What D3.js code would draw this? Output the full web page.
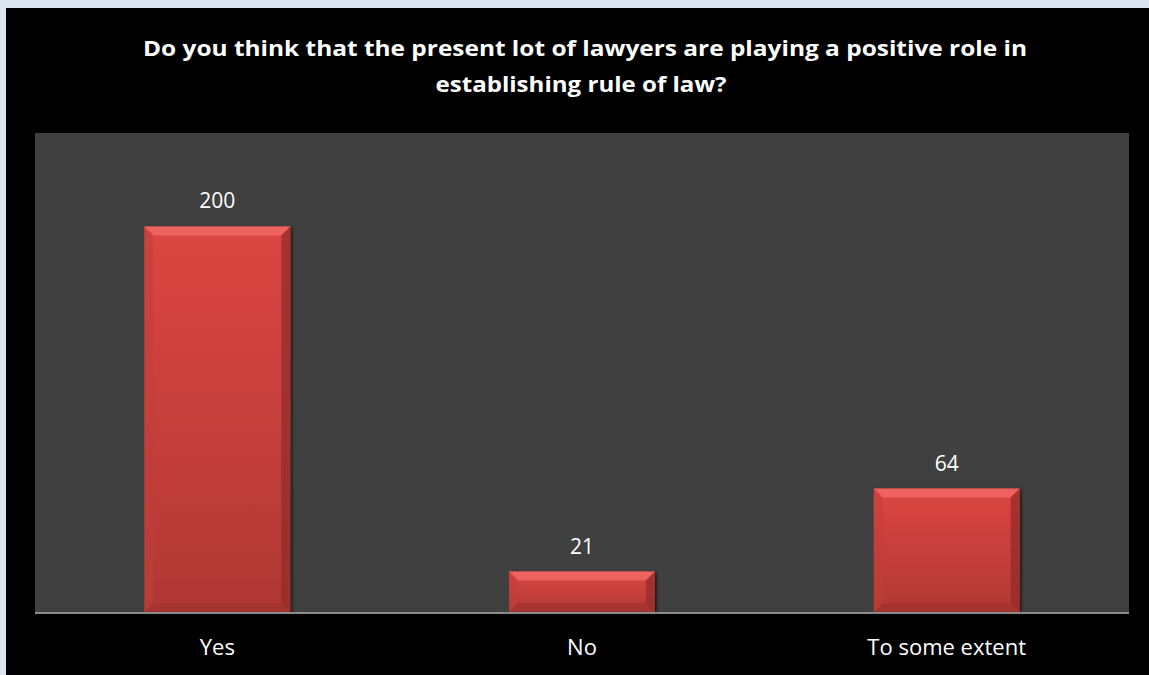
<!DOCTYPE html>
<html>
<head>
<meta charset="utf-8">
<script src="https://cdn.jsdelivr.net/npm/d3@7"></script>
<style>
  html, body { margin: 0; padding: 0; background: #dce6f2; }
  svg { display: block; }
</style>
</head>
<body>
<svg id="chart" width="1149" height="675"></svg>
<script>
// Survey responses
const categories = ["Yes", "No", "To some extent"];
const counts = [200, 21, 64];
const titleLines = [
  "Do you think that the present lot of lawyers are playing a positive role in",
  "establishing rule of law?"
];

const W = 1149, H = 675;
const plot = { left: 35, right: 1129, top: 133, bottom: 612 };
const font = "'Open Sans', sans-serif";

const svg = d3.select("#chart");

// frame
svg.append("rect").attr("x", 0).attr("y", 0).attr("width", W).attr("height", H).attr("fill", "#dce6f2");
svg.append("rect").attr("x", 6).attr("y", 8).attr("width", W - 6).attr("height", H - 8).attr("fill", "#000");

// plot area
svg.append("rect")
  .attr("x", plot.left).attr("y", plot.top)
  .attr("width", plot.right - plot.left).attr("height", plot.bottom - plot.top)
  .attr("fill", "#404040");

const x = d3.scaleBand().domain(categories).range([plot.left, plot.right])
  .paddingInner(0.6).paddingOuter(0.3);
const y = d3.scaleLinear().domain([0, 250]).range([plot.bottom, plot.top - 3]);

// gradient for bar faces
const defs = svg.append("defs");
const grad = defs.append("linearGradient").attr("id", "barFace")
  .attr("x1", 0).attr("y1", 0).attr("x2", 0).attr("y2", 1);
grad.append("stop").attr("offset", "0%").attr("stop-color", "#dc4642");
grad.append("stop").attr("offset", "100%").attr("stop-color", "#b03834");

const shadow = defs.append("filter").attr("id", "barShadow")
  .attr("x", "-10%").attr("y", "-10%").attr("width", "130%").attr("height", "130%");
shadow.append("feDropShadow").attr("dx", 2).attr("dy", 1).attr("stdDeviation", 1.5)
  .attr("flood-color", "#000").attr("flood-opacity", 0.6);

const data = categories.map((c, i) => ({ cat: c, val: counts[i] }));
const bev = 9;

const bars = svg.append("g").selectAll("g").data(data).join("g");

bars.each(function(d) {
  const g = d3.select(this);
  const x0 = x(d.cat), x1 = x0 + x.bandwidth();
  const y0 = y(d.val), y1 = y(0);
  const b = Math.min(bev, (y1 - y0) / 2);
  g.append("rect")
    .attr("x", x0).attr("y", y0).attr("width", x1 - x0).attr("height", y1 - y0)
    .attr("fill", "url(#barFace)").attr("filter", "url(#barShadow)");
  const poly = pts => pts.map(p => p.join(",")).join(" ");
  // top bevel (highlight)
  g.append("polygon").attr("points", poly([[x0, y0], [x1, y0], [x1 - b, y0 + b], [x0 + b, y0 + b]]))
    .attr("fill", "#f26a66").attr("opacity", 0.8);
  // left bevel
  g.append("polygon").attr("points", poly([[x0, y0], [x0 + b, y0 + b], [x0 + b, y1 - b], [x0, y1]]))
    .attr("fill", "#c23e3a").attr("opacity", 0.5);
  // right bevel (shade)
  g.append("polygon").attr("points", poly([[x1, y0], [x1, y1], [x1 - b, y1 - b], [x1 - b, y0 + b]]))
    .attr("fill", "#8e2b28").attr("opacity", 0.7);
  // bottom bevel
  g.append("polygon").attr("points", poly([[x0, y1], [x1, y1], [x1 - b, y1 - b], [x0 + b, y1 - b]]))
    .attr("fill", "#9c302d").attr("opacity", 0.6);
});

// baseline
svg.append("line")
  .attr("x1", plot.left).attr("x2", plot.right)
  .attr("y1", plot.bottom + 1).attr("y2", plot.bottom + 1)
  .attr("stroke", "#8a8a8a").attr("stroke-width", 2);

// value labels
svg.append("g").selectAll("text").data(data).join("text")
  .attr("x", d => x(d.cat) + x.bandwidth() / 2)
  .attr("y", d => y(d.val) - 18)
  .attr("text-anchor", "middle")
  .attr("fill", "#fff")
  .style("font-family", font).style("font-size", "21px")
  .text(d => d.val);

// category axis
const xAxis = svg.append("g").attr("transform", `translate(0,${plot.bottom})`)
  .call(d3.axisBottom(x).tickSize(0).tickPadding(0));
xAxis.select(".domain").remove();
xAxis.selectAll("text")
  .attr("dy", null).attr("y", 43)
  .attr("fill", "#fff")
  .style("font-family", font).style("font-size", "22px");

// title
const titleWidths = [884, 291];
svg.append("g").selectAll("text").data(titleLines).join("text")
  .attr("x", (d, i) => i === 0 ? 585 : 581)
  .attr("y", (d, i) => 56 + i * 36)
  .attr("text-anchor", "middle")
  .attr("fill", "#fff")
  .attr("textLength", (d, i) => titleWidths[i])
  .attr("lengthAdjust", "spacingAndGlyphs")
  .style("font-family", font).style("font-size", "22px").style("font-weight", "bold")
  .text(d => d);
</script>
</body>
</html>
